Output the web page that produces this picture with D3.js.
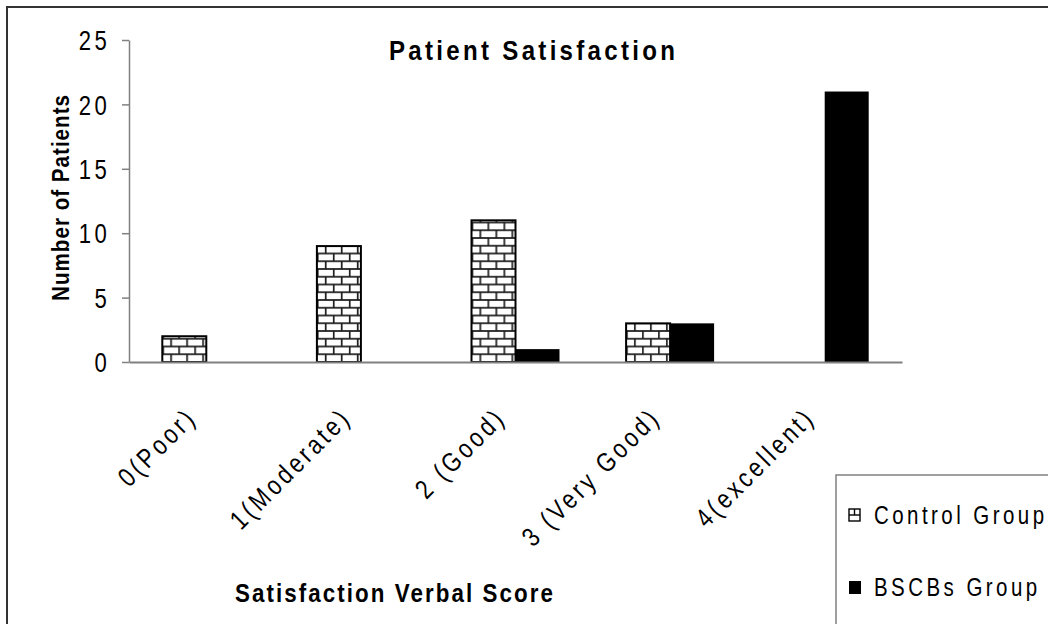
<!DOCTYPE html>
<html>
<head>
<meta charset="utf-8">
<script src="https://cdn.jsdelivr.net/npm/d3@7"></script>
<style>
  body { margin: 0; background: #fff; }
  svg text { font-family: "Liberation Sans", Arial, sans-serif; fill: #000; }
</style>
</head>
<body>
<svg id="chart" width="1048" height="624"></svg>
<script>
const categories = ["0(Poor)", "1(Moderate)", "2 (Good)", "3 (Very Good)", "4(excellent)"];
const seriesNames = ["Control Group", "BSCBs Group"];
const controlValues = [2, 9, 11, 3, 0];
const bscbsValues = [0, 0, 1, 3, 21];
const yTicks = [0, 5, 10, 15, 20, 25];

const svg = d3.select("#chart");

const plot = { left: 129, right: 902, top: 40, bottom: 362 };
const SX = 0.82;  // horizontal squeeze, the original uses a narrow face
const SXB = 0.86; // same for the bold titles

// outer frame (runs off the canvas on right and bottom)
svg.append("rect")
    .attr("x", 7).attr("y", 7)
    .attr("width", 1200).attr("height", 800)
    .attr("fill", "none")
    .attr("stroke", "#333")
    .attr("stroke-width", 2);

// brick hatch for the control group
const defs = svg.append("defs");
const brick = defs.append("pattern")
    .attr("id", "brick")
    .attr("patternUnits", "userSpaceOnUse")
    .attr("x", 0).attr("y", 362)
    .attr("width", 16).attr("height", 15.5);
brick.append("rect").attr("width", 16).attr("height", 15.5).attr("fill", "#fff");
const mortar = "#1a1a1a";
[[0, 0, 16, 0], [0, 7.75, 16, 7.75], [0, 15.5, 16, 15.5],
 [0.8, 0, 0.8, 7.75], [8.8, 7.75, 8.8, 15.5]].forEach(l => {
    brick.append("line")
        .attr("x1", l[0]).attr("y1", l[1]).attr("x2", l[2]).attr("y2", l[3])
        .attr("stroke", mortar).attr("stroke-width", 1.7);
});

const x0 = d3.scaleBand()
    .domain(categories)
    .range([plot.left, plot.right])
    .paddingInner(0).paddingOuter(0);

const groupWidth = 88;
const x1 = d3.scaleBand()
    .domain(seriesNames)
    .range([0, groupWidth]);

const y = d3.scaleLinear()
    .domain([0, 25])
    .range([plot.bottom, plot.top]);

const data = categories.map((c, i) => ({
    cat: c,
    values: [
        { key: seriesNames[0], value: controlValues[i] },
        { key: seriesNames[1], value: bscbsValues[i] }
    ]
}));

// y axis
const yAxis = svg.append("g")
    .attr("transform", `translate(${plot.left},0)`)
    .call(d3.axisLeft(y).tickValues(yTicks).tickSize(7).tickSizeOuter(0));
yAxis.select(".domain").attr("stroke", "#808080").attr("stroke-width", 1.5);
yAxis.selectAll(".tick line").attr("stroke", "#808080").attr("stroke-width", 1.5);
yAxis.selectAll(".tick text")
    .attr("x", -19 / SX)
    .attr("dy", "0.36em")
    .attr("transform", `scale(${SX},1)`)
    .style("font-size", "27px")
    .style("letter-spacing", "4px");

// bars
const groups = svg.selectAll(".grp")
    .data(data)
    .join("g")
    .attr("class", "grp")
    .attr("transform", d => `translate(${x0(d.cat) + (x0.bandwidth() - groupWidth) / 2},0)`);

groups.selectAll("rect")
    .data(d => d.values.filter(v => v.value > 0))
    .join("rect")
    .attr("x", d => x1(d.key))
    .attr("y", d => y(d.value))
    .attr("width", x1.bandwidth())
    .attr("height", d => y(0) - y(d.value))
    .attr("fill", d => d.key === seriesNames[0] ? "url(#brick)" : "#000")
    .attr("stroke", d => d.key === seriesNames[0] ? "#000" : "none")
    .attr("stroke-width", 2);

// x axis
const xAxis = svg.append("g")
    .attr("transform", `translate(0,${plot.bottom})`)
    .call(d3.axisBottom(x0).tickSize(0).tickSizeOuter(0));
xAxis.select(".domain").attr("stroke", "#808080").attr("stroke-width", 2);
xAxis.selectAll(".tick text")
    .attr("text-anchor", "end")
    .attr("y", 0).attr("dy", 0)
    .attr("transform", `translate(-8,57) rotate(-45) scale(${SX},1)`)
    .style("font-size", "27px")
    .style("letter-spacing", "4.2px");

// titles
function label(x, yPos, rot, txt, size, len) {
    svg.append("text")
        .attr("transform", `translate(${x},${yPos}) rotate(${rot}) scale(${SXB},1)`)
        .attr("text-anchor", "middle")
        .attr("textLength", len / SXB).attr("lengthAdjust", "spacing")
        .style("font-size", size + "px").style("font-weight", "bold")
        .text(txt);
}
label(532, 60, 0, "Patient Satisfaction", 28, 286);
label(394, 602, 0, "Satisfaction Verbal Score", 26, 318);
label(69, 198, -90, "Number of Patients", 24, 206);

// legend
const legend = svg.append("g");
legend.append("rect")
    .attr("x", 836).attr("y", 475)
    .attr("width", 400).attr("height", 300)
    .attr("fill", "#fff")
    .attr("stroke", "#808080")
    .attr("stroke-width", 1.5);

// control swatch: tiny brick
const sw = legend.append("g").attr("transform", "translate(849,509)");
sw.append("rect").attr("width", 11).attr("height", 12)
    .attr("fill", "#fff").attr("stroke", "#000").attr("stroke-width", 1.4);
sw.append("line").attr("x1", 0).attr("y1", 6).attr("x2", 11).attr("y2", 6)
    .attr("stroke", "#000").attr("stroke-width", 1.4);
sw.append("line").attr("x1", 5.5).attr("y1", 0).attr("x2", 5.5).attr("y2", 6)
    .attr("stroke", "#000").attr("stroke-width", 1.4);

legend.append("rect")
    .attr("x", 849).attr("y", 581)
    .attr("width", 12).attr("height", 13)
    .attr("fill", "#000");

legend.selectAll(".lg")
    .data(seriesNames)
    .join("text")
    .attr("class", "lg")
    .attr("transform", (d, i) => `translate(874,${524 + i * 72}) scale(${SX},1)`)
    .style("font-size", "25px")
    .style("letter-spacing", "4.2px")
    .text(d => d);
</script>
</body>
</html>
